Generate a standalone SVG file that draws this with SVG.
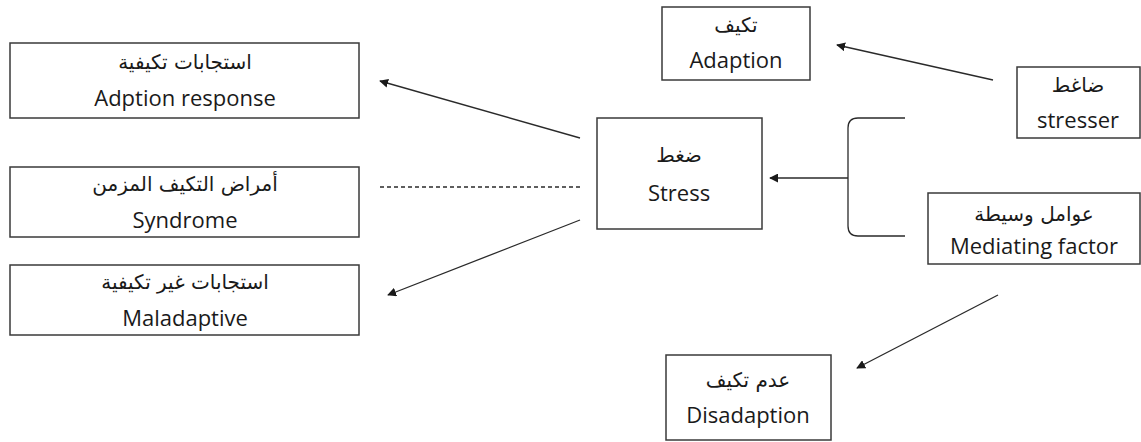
<svg xmlns="http://www.w3.org/2000/svg" width="1141" height="442" viewBox="0 0 1141 442">
<style>
.box{fill:#fff;stroke:#3a3a3a;stroke-width:1.5}
.en{font-family:"Open Sans","Liberation Sans",sans-serif;font-size:22px;fill:#1a1a1a;text-anchor:middle}
.ar{font-family:"DejaVu Sans","Noto Sans",sans-serif;font-size:20px;fill:#1a1a1a;text-anchor:middle}
.ln{stroke:#2a2a2a;stroke-width:1.3;fill:none}
</style>
<defs>
<marker id="ah" viewBox="0 0 10 10" refX="9" refY="5" markerWidth="9" markerHeight="9" markerUnits="userSpaceOnUse" orient="auto">
<path d="M0,0 L10,5 L0,10 z" fill="#1a1a1a"/>
</marker>
</defs>
<rect width="1141" height="442" fill="#fff"/>
<g id="adption-response">
<rect class="box" x="10" y="43" width="349" height="75"/>
<text class="ar" x="185" y="69" direction="rtl">استجابات تكيفية</text>
<text class="en" x="185" y="106">Adption response</text>
</g>
<g id="syndrome">
<rect class="box" x="10" y="167" width="349" height="70"/>
<text class="ar" x="185" y="191" direction="rtl">أمراض التكيف المزمن</text>
<text class="en" x="185" y="228">Syndrome</text>
</g>
<g id="maladaptive">
<rect class="box" x="10" y="265" width="349" height="70"/>
<text class="ar" x="185" y="289" direction="rtl">استجابات غير تكيفية</text>
<text class="en" x="185" y="326">Maladaptive</text>
</g>
<g id="adaption">
<rect class="box" x="662" y="7" width="148" height="73"/>
<text class="ar" x="736" y="32" direction="rtl">تكيف</text>
<text class="en" x="736" y="68">Adaption</text>
</g>
<g id="stress">
<rect class="box" x="597" y="118" width="165" height="111"/>
<text class="ar" x="679" y="162" direction="rtl">ضغط</text>
<text class="en" x="679" y="201">Stress</text>
</g>
<g id="stresser">
<rect class="box" x="1017" y="67" width="123" height="71"/>
<text class="ar" x="1078" y="92" direction="rtl">ضاغط</text>
<text class="en" x="1078" y="128">stresser</text>
</g>
<g id="mediating-factor">
<rect class="box" x="928" y="193" width="212" height="71"/>
<text class="ar" x="1034" y="221" direction="rtl">عوامل وسيطة</text>
<text class="en" x="1034" y="254">Mediating factor</text>
</g>
<g id="disadaption">
<rect class="box" x="666" y="355" width="165" height="85"/>
<text class="ar" x="748" y="387" direction="rtl">عدم تكيف</text>
<text class="en" x="748" y="423">Disadaption</text>
</g>
<g id="connectors">
<path class="ln" d="M905,118 L858,118 Q848,118 848,128 L848,226 Q848,236 858,236 L905,236"/>
<line class="ln" x1="848" y1="178" x2="770" y2="178" marker-end="url(#ah)"/>
<line class="ln" x1="993" y1="80" x2="837" y2="45" marker-end="url(#ah)"/>
<line class="ln" x1="998" y1="295" x2="857" y2="368" marker-end="url(#ah)"/>
<line class="ln" x1="580" y1="138" x2="380" y2="81" marker-end="url(#ah)"/>
<line class="ln" x1="580" y1="187" x2="378" y2="187" stroke-dasharray="4,3"/>
<line class="ln" x1="580" y1="220" x2="388" y2="295" marker-end="url(#ah)"/>
</g>
</svg>
